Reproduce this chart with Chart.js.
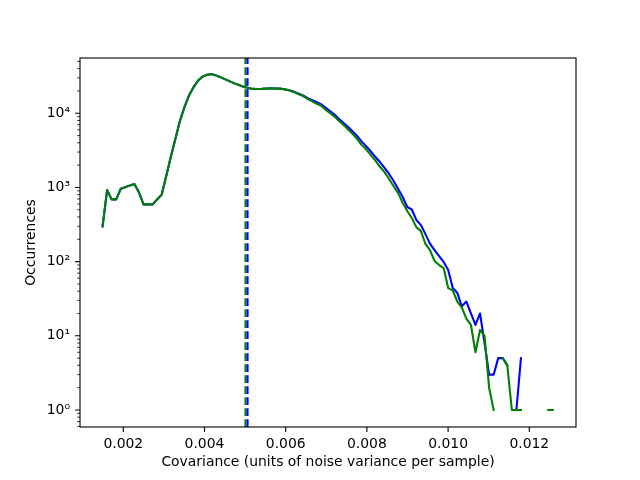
<!DOCTYPE html>
<html>
<head>
<meta charset="utf-8">
<script src="https://cdn.jsdelivr.net/npm/chart.js@4.4.1/dist/chart.umd.min.js"></script>
<style>
  html, body { margin: 0; padding: 0; background: #fff; }
  canvas { display: block; }
</style>
</head>
<body>
<canvas id="histChart" width="640" height="480"></canvas>
<script>
// histogram bins: first bin centre and bin width
const BIN_START = 0.00149;
const BIN_WIDTH = 0.000112;

// occurrences per bin (null = empty bin, not drawn on log axis)
const blueCounts = [
    300, 920, 690, 690, 960, 1010, 1060, 1110, 860, 592,
    595, 590, 690, 800, 1430, 2570, 4490, 7850, 12100, 17300,
    22500, 27600, 31200, 33000, 33700, 32200, 30500, 28600, 26900, 25300,
    24000, 22700, 21900, 21300, 21200, 21300, 21500, 21700, 21600, 21500,
    21100, 20500, 19600, 18500, 17500, 16100, 15070, 14170, 13300, 11940,
    10720, 9600, 8350, 7380, 6520, 5670, 4930, 4150, 3560, 3050,
    2570, 2200, 1830, 1520, 1220, 950, 743, 545, 504, 364,
    311, 235, 175, 143, 119, 99, 77, 44, 38, 25,
    29, 20, 14, 20, 8, 3, 3, 5, 5, 4,
    null, 1, 5, null, null, null, null, null, null, null
];
const greenCounts = [
    300, 920, 690, 690, 960, 1010, 1060, 1110, 860, 592,
    595, 590, 690, 800, 1430, 2570, 4490, 7850, 12100, 17300,
    22500, 27600, 31200, 33000, 33700, 32200, 30500, 28600, 26900, 25300,
    24000, 22700, 21900, 21300, 21200, 21300, 21500, 21700, 21600, 21500,
    21000, 20400, 19400, 18200, 17200, 15700, 14590, 13520, 12700, 11220,
    10070, 9030, 7850, 6930, 6030, 5250, 4490, 3720, 3240, 2730,
    2300, 1900, 1610, 1300, 1040, 840, 617, 481, 387, 292,
    258, 173, 143, 102, 90, 82, 44, 41, 29, 24,
    17, 14, 6, 12, 10, 2, 1, null, 5, 4,
    1, 1, 1, null, null, null, null, null, 1, 1
];

// dashed markers
const blueMarker = 0.00506;
const greenMarker = 0.00501;

const xTicks = [0.002, 0.004, 0.006, 0.008, 0.010, 0.012];
const xTickLabels = ["0.002", "0.004", "0.006", "0.008", "0.010", "0.012"];
const yTicks = [1, 10, 100, 1000, 10000];
const yTickLabels = ["10\u2070", "10\u00b9", "10\u00b2", "10\u00b3", "10\u2074"];

const binCenters = blueCounts.map((_, i) => BIN_START + i * BIN_WIDTH);

Chart.defaults.font.family = "'DejaVu Sans', sans-serif";
Chart.defaults.font.size = 13.9;
Chart.defaults.color = "#000";

// dashed vertical lines
const markerLines = {
    id: "markerLines",
    afterDatasetsDraw(chart) {
        const { ctx, chartArea: a, scales: { x } } = chart;
        ctx.save();
        ctx.lineWidth = 2.08;
        ctx.setLineDash([7.7, 3.3]);
        [[greenMarker, "#008000"], [blueMarker, "#0000ff"]].forEach(([v, c]) => {
            const px = x.getPixelForValue(v);
            ctx.strokeStyle = c;
            ctx.beginPath();
            ctx.moveTo(px, a.bottom);
            ctx.lineTo(px, a.top);
            ctx.stroke();
        });
        ctx.restore();
    }
};

// frame + tick marks (major and log minor)
const axesFrame = {
    id: "axesFrame",
    afterDraw(chart) {
        const { ctx, chartArea: a, scales: { x, y } } = chart;
        ctx.save();
        ctx.strokeStyle = "#000";
        ctx.lineWidth = 1.1;
        ctx.strokeRect(a.left, a.top, a.right - a.left, a.bottom - a.top);

        ctx.beginPath();
        xTicks.forEach(v => {
            const px = x.getPixelForValue(v);
            ctx.moveTo(px, a.bottom);
            ctx.lineTo(px, a.bottom + 4.9);
        });
        yTicks.forEach(v => {
            const py = y.getPixelForValue(v);
            ctx.moveTo(a.left, py);
            ctx.lineTo(a.left - 4.9, py);
        });
        ctx.stroke();

        ctx.lineWidth = 0.8;
        ctx.beginPath();
        for (let d = -1; d <= 4; d++) {
            for (let m = 2; m <= 9; m++) {
                const v = m * Math.pow(10, d);
                if (v < y.min || v > y.max) continue;
                const py = y.getPixelForValue(v);
                ctx.moveTo(a.left, py);
                ctx.lineTo(a.left - 2.8, py);
            }
        }
        ctx.stroke();
        ctx.restore();
    }
};

const ctx = document.getElementById("histChart").getContext("2d");

new Chart(ctx, {
    type: "line",
    data: {
        datasets: [
            {
                label: "blue",
                data: binCenters.map((x, i) => ({ x: x, y: blueCounts[i] })),
                borderColor: "#0000ff",
                borderWidth: 2.08,
                order: 1
            },
            {
                label: "green",
                data: binCenters.map((x, i) => ({ x: x, y: greenCounts[i] })),
                borderColor: "#008000",
                borderWidth: 2.08,
                order: 0
            }
        ]
    },
    options: {
        responsive: false,
        animation: false,
        layout: { padding: { top: 58, right: 64, left: 0, bottom: 0 } },
        elements: {
            point: { radius: 0 },
            line: { tension: 0, borderJoinStyle: "round", borderCapStyle: "square", fill: false }
        },
        spanGaps: false,
        plugins: {
            legend: { display: false },
            tooltip: { enabled: false }
        },
        scales: {
            x: {
                type: "linear",
                min: 0.000934,
                max: 0.01315,
                grid: { display: false, drawTicks: false },
                border: { display: false },
                afterBuildTicks: (s) => { s.ticks = xTicks.map(v => ({ value: v })); },
                afterFit: (s) => { s.height = 53; },
                ticks: {
                    autoSkip: false,
                    maxRotation: 0,
                    padding: 9,
                    callback: (v) => xTickLabels[xTicks.indexOf(v)]
                },
                title: {
                    display: true,
                    text: "Covariance (units of noise variance per sample)",
                    padding: { top: 0, bottom: 9 }
                }
            },
            y: {
                type: "logarithmic",
                min: 0.59,
                max: 55600,
                grid: { display: false, drawTicks: false },
                border: { display: false },
                afterBuildTicks: (s) => { s.ticks = yTicks.map(v => ({ value: v, major: true })); },
                afterFit: (s) => { s.width = 80; },
                ticks: {
                    autoSkip: false,
                    padding: 10,
                    callback: (v) => yTickLabels[yTicks.indexOf(v)]
                },
                title: {
                    display: true,
                    text: "Occurrences",
                    padding: { top: 23, bottom: 0 }
                }
            }
        }
    },
    plugins: [markerLines, axesFrame]
});
</script>
</body>
</html>
